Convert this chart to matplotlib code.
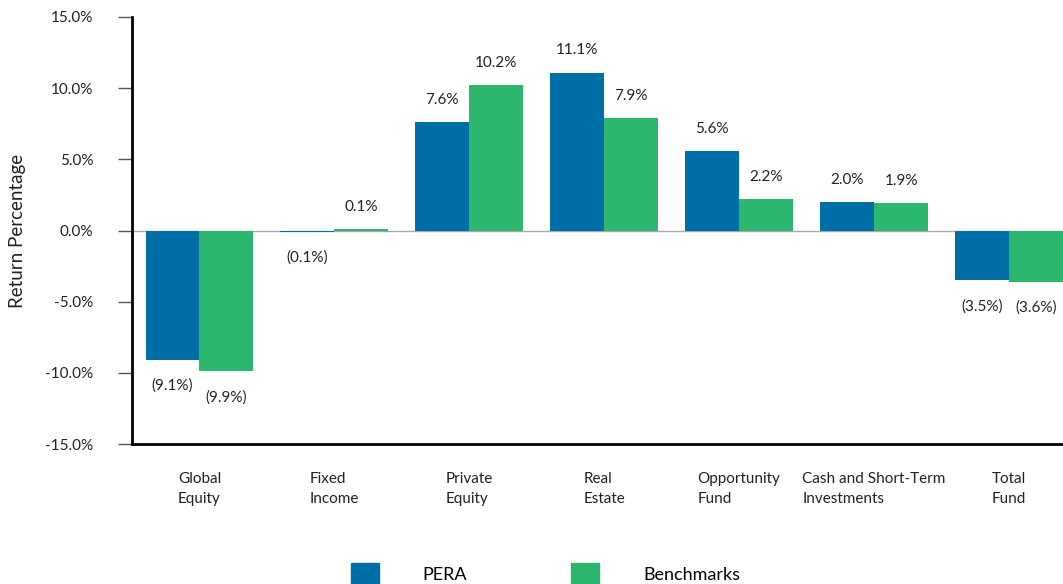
import matplotlib.pyplot as plt
import numpy as np
from matplotlib.patches import Patch

plt.rcParams["font.family"] = ["Lato", "DejaVu Sans"]

categories = ["Global\nEquity", "Fixed\nIncome", "Private\nEquity", "Real\nEstate",
              "Opportunity\nFund", "Cash and Short-Term\nInvestments", "Total\nFund"]
pera = [-9.1, -0.1, 7.6, 11.1, 5.6, 2.0, -3.5]
benchmarks = [-9.9, 0.1, 10.2, 7.9, 2.2, 1.9, -3.6]
series_names = ["PERA", "Benchmarks"]
yticks = [-15, -10, -5, 0, 5, 10, 15]

blue = "#006FA7"
green = "#2DB66D"


def fmt(v):
    return f"({abs(v):.1f}%)" if v < 0 else f"{v:.1f}%"


fig = plt.figure(figsize=(10.63, 5.84), dpi=100)
ax = fig.add_axes([0.1242, 0.2397, 0.8758, 0.7312])

x = np.arange(len(categories))
w = 0.4
for vals, color, off in [(pera, blue, -w / 2), (benchmarks, green, w / 2)]:
    bars = ax.bar(x + off, vals, width=w, color=color, zorder=2)
    for b, v in zip(bars, vals):
        if v >= 0:
            ax.annotate(fmt(v), (b.get_x() + b.get_width() / 2, v), xytext=(0, 11),
                        textcoords="offset points", ha="center", va="bottom",
                        fontsize=11, color="#222222")
        else:
            ax.annotate(fmt(v), (b.get_x() + b.get_width() / 2, v), xytext=(0, -13.5),
                        textcoords="offset points", ha="center", va="top",
                        fontsize=11, color="#222222")

ax.axhline(0, color="#aaaaaa", linewidth=1, zorder=1)
ax.set_xlim(-0.5, 6.4)
ax.set_ylim(-15, 15)
ax.set_yticks(yticks)
ax.set_yticklabels([f"{t:.1f}%" for t in yticks], fontsize=11, color="#222222")
ax.tick_params(axis="y", length=10, width=1, color="#555555", pad=18)
ax.set_xticks(x)
ax.set_xticklabels(categories, fontsize=11, color="#222222", multialignment="left",
                   linespacing=1.58)
ax.tick_params(axis="x", length=0, pad=20)
ax.set_ylabel("Return Percentage", fontsize=13.5, color="#222222", labelpad=14)

for side in ["top", "right"]:
    ax.spines[side].set_visible(False)
ax.spines["left"].set_linewidth(2)
ax.spines["bottom"].set_linewidth(2)

handles = [Patch(color=blue), Patch(color=green)]
fig.legend(handles, series_names, loc="center", bbox_to_anchor=(0.513, 0.017),
           ncol=2, frameon=False, fontsize=13, handlelength=1.55, handleheight=1.55,
           handletextpad=2.44, columnspacing=5.75)

fig.savefig("out.png", dpi=100)
